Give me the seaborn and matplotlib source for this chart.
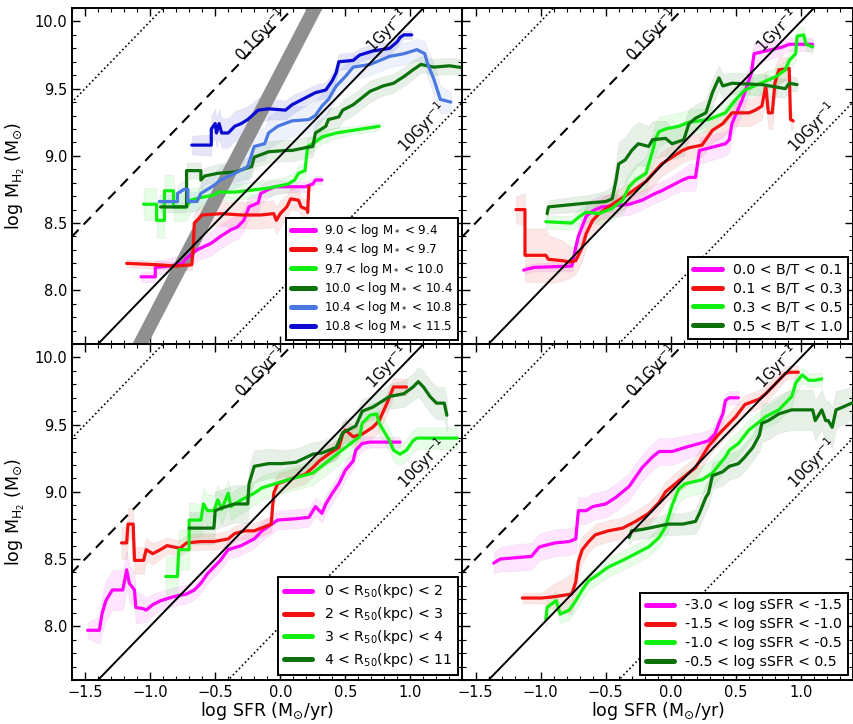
import matplotlib
matplotlib.use("Agg")
import numpy as np
import matplotlib.pyplot as plt
from matplotlib.lines import Line2D
from matplotlib.ticker import MultipleLocator
import seaborn as sns

# ---------------------------------------------------------------- data
# Running medians of log M_H2 versus log SFR (with half-width of the scatter band)

# Panel 1: stellar-mass bins
mstar_a_sfr = [-1.07, -0.96, -0.96, -0.85, -0.75, -0.73, -0.64, -0.53, -0.46, -0.38, -0.33, -0.28, -0.24, -0.17, -0.15, -0.09, -0.04, 0.09, 0.19, 0.25, 0.27, 0.32]
mstar_a_mh2 = [8.10, 8.10, 8.17, 8.18, 8.20, 8.23, 8.30, 8.35, 8.40, 8.45, 8.47, 8.52, 8.62, 8.65, 8.72, 8.75, 8.77, 8.77, 8.77, 8.79, 8.82, 8.82]
mstar_a_err = [0.04, 0.04, 0.05, 0.06, 0.07, 0.08, 0.08, 0.09, 0.09, 0.09, 0.09, 0.08, 0.08, 0.07, 0.07, 0.06, 0.05, 0.04, 0.04, 0.04, 0.03, 0.03]

mstar_b_sfr = [-1.18, -0.95, -0.80, -0.68, -0.67, -0.66, -0.64, -0.60, -0.45, -0.30, -0.15, -0.05, -0.03, 0.00, 0.05, 0.08, 0.14, 0.16, 0.21, 0.21, 0.22]
mstar_b_mh2 = [8.20, 8.19, 8.18, 8.19, 8.30, 8.50, 8.52, 8.56, 8.57, 8.56, 8.56, 8.57, 8.52, 8.57, 8.62, 8.68, 8.67, 8.62, 8.60, 8.58, 8.77]
mstar_b_err = [0.03, 0.03, 0.03, 0.04, 0.06, 0.08, 0.08, 0.08, 0.09, 0.10, 0.10, 0.10, 0.10, 0.10, 0.09, 0.08, 0.08, 0.07, 0.07, 0.05, 0.04]

mstar_c_sfr = [-1.05, -0.95, -0.95, -0.89, -0.89, -0.82, -0.82, -0.72, -0.69, -0.61, -0.50, -0.48, -0.35, -0.09, 0.06, 0.11, 0.14, 0.19, 0.21, 0.25, 0.32, 0.43, 0.56, 0.76]
mstar_c_mh2 = [8.64, 8.64, 8.52, 8.52, 8.74, 8.74, 8.62, 8.62, 8.67, 8.69, 8.71, 8.73, 8.73, 8.76, 8.79, 8.82, 8.87, 8.89, 9.07, 9.09, 9.14, 9.17, 9.19, 9.22]
mstar_c_err = [0.12, 0.12, 0.13, 0.13, 0.12, 0.12, 0.11, 0.10, 0.09, 0.08, 0.07, 0.06, 0.06, 0.06, 0.06, 0.06, 0.06, 0.06, 0.06, 0.05, 0.05, 0.04, 0.03, 0.03]

mstar_d_sfr = [-0.92, -0.72, -0.72, -0.61, -0.61, -0.58, -0.48, -0.35, -0.22, -0.20, -0.09, 0.04, 0.09, 0.19, 0.25, 0.27, 0.35, 0.37, 0.45, 0.48, 0.56, 0.69, 0.79, 0.87, 0.95, 1.02, 1.08, 1.18, 1.30, 1.44]
mstar_d_mh2 = [8.62, 8.62, 8.89, 8.89, 8.82, 8.85, 8.87, 8.88, 8.92, 8.99, 9.03, 9.04, 9.04, 9.06, 9.07, 9.17, 9.22, 9.27, 9.29, 9.34, 9.38, 9.48, 9.52, 9.54, 9.59, 9.64, 9.68, 9.66, 9.67, 9.65]
mstar_d_err = [0.04, 0.04, 0.06, 0.06, 0.06, 0.06, 0.07, 0.08, 0.08, 0.08, 0.08, 0.08, 0.08, 0.08, 0.08, 0.08, 0.08, 0.08, 0.08, 0.08, 0.08, 0.08, 0.07, 0.07, 0.07, 0.07, 0.06, 0.06, 0.06, 0.06]

mstar_e_sfr = [-0.93, -0.79, -0.79, -0.74, -0.71, -0.71, -0.64, -0.61, -0.51, -0.46, -0.35, -0.25, -0.20, -0.12, -0.09, -0.02, 0.09, 0.22, 0.27, 0.32, 0.37, 0.43, 0.50, 0.56, 0.69, 0.84, 0.95, 1.05, 1.11, 1.13, 1.18, 1.23, 1.31]
mstar_e_mh2 = [8.66, 8.66, 8.72, 8.75, 8.75, 8.66, 8.66, 8.72, 8.78, 8.82, 8.87, 8.92, 9.07, 9.09, 9.17, 9.22, 9.26, 9.27, 9.30, 9.37, 9.42, 9.52, 9.59, 9.66, 9.68, 9.74, 9.76, 9.79, 9.76, 9.69, 9.57, 9.42, 9.40]
mstar_e_err = [0.05, 0.05, 0.06, 0.07, 0.07, 0.07, 0.07, 0.08, 0.09, 0.10, 0.11, 0.11, 0.12, 0.12, 0.12, 0.12, 0.11, 0.10, 0.10, 0.10, 0.10, 0.10, 0.09, 0.09, 0.08, 0.08, 0.08, 0.08, 0.09, 0.10, 0.12, 0.10, 0.08]

mstar_f_sfr = [-0.68, -0.53, -0.53, -0.50, -0.49, -0.47, -0.45, -0.40, -0.35, -0.30, -0.25, -0.17, -0.09, 0.04, 0.09, 0.19, 0.27, 0.35, 0.40, 0.43, 0.45, 0.56, 0.61, 0.71, 0.84, 0.90, 0.92, 0.95, 1.01]
mstar_f_mh2 = [9.08, 9.08, 9.20, 9.24, 9.17, 9.24, 9.17, 9.17, 9.22, 9.24, 9.27, 9.34, 9.35, 9.34, 9.38, 9.43, 9.47, 9.49, 9.56, 9.62, 9.70, 9.71, 9.75, 9.78, 9.80, 9.85, 9.88, 9.90, 9.90]
mstar_f_err = [0.07, 0.08, 0.10, 0.11, 0.11, 0.11, 0.11, 0.11, 0.11, 0.11, 0.10, 0.09, 0.08, 0.07, 0.07, 0.06, 0.06, 0.06, 0.06, 0.06, 0.06, 0.06, 0.05, 0.05, 0.05, 0.04, 0.04, 0.03, 0.03]

mstar_labels = [r"9.0 < log M$_*$ < 9.4", r"9.4 < log M$_*$ < 9.7", r"9.7 < log M$_*$ < 10.0",
                r"10.0 < log M$_*$ < 10.4", r"10.4 < log M$_*$ < 10.8", r"10.8 < log M$_*$ < 11.5"]

# grey relation shown in the first panel
relation_sfr = [-1.13, 0.32]
relation_mh2 = [7.50, 10.20]

# Panel 2: bulge-to-total bins
bt_a_sfr = [-1.13, -1.05, -0.76, -0.73, -0.71, -0.65, -0.60, -0.53, -0.42, -0.32, -0.22, -0.12, -0.07, 0.01, 0.09, 0.14, 0.19, 0.22, 0.42, 0.45, 0.47, 0.55, 0.62, 0.64, 0.73, 0.86, 0.91, 1.09]
bt_a_mh2 = [8.15, 8.17, 8.18, 8.32, 8.40, 8.55, 8.59, 8.62, 8.63, 8.64, 8.67, 8.72, 8.74, 8.78, 8.82, 8.84, 8.84, 9.04, 9.09, 9.12, 9.24, 9.42, 9.62, 9.76, 9.78, 9.81, 9.83, 9.83]
bt_a_err = [0.03, 0.03, 0.04, 0.06, 0.08, 0.09, 0.09, 0.09, 0.08, 0.08, 0.07, 0.07, 0.07, 0.07, 0.08, 0.10, 0.10, 0.10, 0.09, 0.09, 0.10, 0.10, 0.10, 0.08, 0.07, 0.06, 0.05, 0.05]

bt_b_sfr = [-1.19, -1.12, -1.12, -0.96, -0.94, -0.83, -0.78, -0.73, -0.68, -0.65, -0.60, -0.55, -0.48, -0.40, -0.32, -0.19, -0.07, 0.01, 0.09, 0.14, 0.24, 0.32, 0.40, 0.47, 0.60, 0.65, 0.70, 0.73, 0.75, 0.78, 0.80, 0.83, 0.91, 0.92, 0.94]
bt_b_mh2 = [8.60, 8.60, 8.26, 8.26, 8.23, 8.22, 8.21, 8.22, 8.32, 8.42, 8.52, 8.57, 8.62, 8.67, 8.72, 8.81, 8.94, 8.99, 9.04, 9.06, 9.08, 9.19, 9.24, 9.32, 9.32, 9.34, 9.37, 9.52, 9.32, 9.32, 9.54, 9.64, 9.65, 9.27, 9.26]
bt_b_err = [0.10, 0.12, 0.20, 0.20, 0.18, 0.15, 0.12, 0.10, 0.10, 0.10, 0.10, 0.10, 0.10, 0.09, 0.09, 0.09, 0.09, 0.09, 0.09, 0.09, 0.09, 0.09, 0.10, 0.10, 0.10, 0.10, 0.10, 0.12, 0.12, 0.12, 0.12, 0.10, 0.08, 0.08, 0.06]

bt_c_sfr = [-0.96, -0.76, -0.70, -0.65, -0.55, -0.45, -0.37, -0.32, -0.27, -0.19, -0.13, -0.12, -0.09, -0.04, 0.06, 0.14, 0.29, 0.42, 0.50, 0.57, 0.81, 0.88, 0.91, 0.96, 0.97, 1.02, 1.04, 1.09]
bt_c_mh2 = [8.51, 8.50, 8.55, 8.58, 8.57, 8.61, 8.67, 8.77, 8.82, 8.87, 9.07, 9.12, 9.18, 9.20, 9.22, 9.25, 9.27, 9.32, 9.42, 9.49, 9.59, 9.64, 9.71, 9.76, 9.89, 9.90, 9.83, 9.81]
bt_c_err = [0.05, 0.05, 0.06, 0.07, 0.08, 0.09, 0.10, 0.10, 0.11, 0.12, 0.12, 0.12, 0.11, 0.10, 0.10, 0.09, 0.09, 0.08, 0.08, 0.07, 0.07, 0.07, 0.07, 0.06, 0.06, 0.06, 0.05, 0.05]

bt_d_sfr = [-0.95, -0.94, -0.63, -0.50, -0.45, -0.42, -0.40, -0.35, -0.30, -0.25, -0.17, -0.14, -0.04, 0.01, 0.10, 0.14, 0.19, 0.27, 0.32, 0.37, 0.40, 0.47, 0.70, 0.88, 0.91, 0.97]
bt_d_mh2 = [8.57, 8.62, 8.65, 8.66, 8.68, 8.82, 8.94, 8.97, 9.04, 9.09, 9.07, 9.12, 9.13, 9.09, 9.12, 9.24, 9.28, 9.32, 9.47, 9.58, 9.52, 9.54, 9.53, 9.50, 9.54, 9.53]
bt_d_err = [0.04, 0.05, 0.06, 0.08, 0.10, 0.14, 0.16, 0.17, 0.17, 0.16, 0.15, 0.14, 0.13, 0.12, 0.12, 0.11, 0.10, 0.10, 0.10, 0.09, 0.09, 0.08, 0.08, 0.07, 0.06, 0.05]

bt_labels = ["0.0 < B/T < 0.1", "0.1 < B/T < 0.3", "0.3 < B/T < 0.5", "0.5 < B/T < 1.0"]

# Panel 3: half-light radius bins
r50_a_sfr = [-1.48, -1.39, -1.37, -1.34, -1.29, -1.21, -1.18, -1.16, -1.12, -1.11, -1.05, -1.03, -0.98, -0.92, -0.82, -0.72, -0.66, -0.61, -0.56, -0.51, -0.46, -0.40, -0.30, -0.20, -0.14, -0.02, 0.12, 0.22, 0.27, 0.32, 0.35, 0.40, 0.45, 0.50, 0.56, 0.58, 0.63, 0.69, 0.92]
r50_a_mh2 = [7.97, 7.97, 8.09, 8.19, 8.27, 8.27, 8.42, 8.32, 8.27, 8.14, 8.13, 8.12, 8.16, 8.19, 8.22, 8.24, 8.27, 8.32, 8.39, 8.44, 8.49, 8.57, 8.60, 8.65, 8.71, 8.79, 8.80, 8.81, 8.89, 8.84, 8.91, 8.99, 9.06, 9.16, 9.23, 9.31, 9.36, 9.37, 9.37]
r50_a_err = [0.06, 0.10, 0.14, 0.15, 0.15, 0.15, 0.14, 0.14, 0.13, 0.12, 0.10, 0.09, 0.08, 0.07, 0.07, 0.07, 0.07, 0.07, 0.07, 0.07, 0.07, 0.07, 0.07, 0.07, 0.07, 0.07, 0.07, 0.07, 0.07, 0.07, 0.07, 0.07, 0.07, 0.07, 0.06, 0.06, 0.05, 0.04, 0.04]

r50_b_sfr = [-1.22, -1.18, -1.17, -1.13, -1.12, -1.05, -1.03, -0.98, -0.92, -0.87, -0.77, -0.72, -0.61, -0.51, -0.40, -0.35, -0.27, -0.20, -0.12, -0.07, -0.05, -0.02, 0.06, 0.19, 0.25, 0.30, 0.37, 0.45, 0.48, 0.50, 0.56, 0.63, 0.71, 0.76, 0.82, 0.87, 0.97]
r50_b_mh2 = [8.62, 8.62, 8.76, 8.76, 8.49, 8.49, 8.57, 8.54, 8.57, 8.60, 8.58, 8.62, 8.63, 8.63, 8.65, 8.69, 8.71, 8.71, 8.74, 8.76, 8.99, 9.06, 9.09, 9.13, 9.18, 9.23, 9.28, 9.33, 9.43, 9.46, 9.41, 9.43, 9.48, 9.53, 9.66, 9.78, 9.78]
r50_b_err = [0.12, 0.12, 0.12, 0.12, 0.10, 0.10, 0.09, 0.08, 0.07, 0.06, 0.06, 0.06, 0.06, 0.06, 0.06, 0.06, 0.06, 0.06, 0.06, 0.06, 0.08, 0.08, 0.07, 0.07, 0.07, 0.07, 0.07, 0.07, 0.08, 0.08, 0.08, 0.08, 0.08, 0.08, 0.08, 0.07, 0.06]

r50_c_sfr = [-0.88, -0.79, -0.78, -0.70, -0.70, -0.61, -0.59, -0.56, -0.51, -0.48, -0.45, -0.40, -0.38, -0.35, -0.30, -0.20, -0.14, -0.04, 0.06, 0.25, 0.37, 0.50, 0.61, 0.63, 0.69, 0.74, 0.76, 0.84, 0.87, 0.92, 0.97, 1.02, 1.05, 1.36]
r50_c_mh2 = [8.37, 8.37, 8.57, 8.57, 8.79, 8.79, 8.91, 8.86, 8.86, 8.94, 8.87, 8.99, 8.89, 8.91, 8.94, 8.99, 9.03, 9.06, 9.09, 9.14, 9.23, 9.33, 9.41, 9.51, 9.57, 9.58, 9.51, 9.38, 9.31, 9.28, 9.31, 9.38, 9.40, 9.40]
r50_c_err = [0.15, 0.15, 0.15, 0.15, 0.13, 0.12, 0.12, 0.12, 0.12, 0.11, 0.11, 0.10, 0.10, 0.10, 0.10, 0.09, 0.09, 0.09, 0.09, 0.09, 0.09, 0.09, 0.09, 0.09, 0.09, 0.09, 0.09, 0.08, 0.08, 0.08, 0.08, 0.08, 0.08, 0.08]

r50_d_sfr = [-0.70, -0.51, -0.50, -0.45, -0.35, -0.25, -0.24, -0.20, -0.09, 0.01, 0.12, 0.25, 0.32, 0.43, 0.48, 0.58, 0.63, 0.71, 0.76, 0.84, 0.95, 1.02, 1.06, 1.10, 1.15, 1.20, 1.26, 1.28]
r50_d_mh2 = [8.73, 8.73, 8.86, 8.88, 8.91, 8.91, 9.06, 9.19, 9.21, 9.21, 9.22, 9.28, 9.29, 9.33, 9.44, 9.49, 9.60, 9.63, 9.66, 9.71, 9.73, 9.78, 9.82, 9.78, 9.71, 9.66, 9.66, 9.57]
r50_d_err = [0.12, 0.12, 0.14, 0.14, 0.14, 0.14, 0.13, 0.12, 0.11, 0.10, 0.10, 0.09, 0.09, 0.09, 0.09, 0.09, 0.09, 0.09, 0.09, 0.09, 0.10, 0.10, 0.11, 0.12, 0.12, 0.12, 0.12, 0.12]

r50_labels = [r"0 < R$_{50}$(kpc) < 2", r"2 < R$_{50}$(kpc) < 3", r"3 < R$_{50}$(kpc) < 4", r"4 < R$_{50}$(kpc) < 11"]

# Panel 4: specific star-formation-rate bins
ssfr_a_sfr = [-1.36, -1.31, -1.19, -1.07, -1.01, -0.89, -0.78, -0.73, -0.71, -0.65, -0.60, -0.50, -0.42, -0.32, -0.27, -0.22, -0.14, -0.09, 0.01, 0.11, 0.22, 0.29, 0.34, 0.37, 0.40, 0.42, 0.45, 0.52]
ssfr_a_mh2 = [8.47, 8.50, 8.51, 8.52, 8.59, 8.62, 8.63, 8.65, 8.86, 8.86, 8.89, 8.91, 8.96, 9.04, 9.11, 9.18, 9.26, 9.30, 9.30, 9.33, 9.36, 9.38, 9.43, 9.51, 9.58, 9.68, 9.70, 9.70]
ssfr_a_err = [0.08, 0.09, 0.10, 0.10, 0.10, 0.10, 0.10, 0.10, 0.10, 0.10, 0.10, 0.10, 0.10, 0.10, 0.10, 0.10, 0.10, 0.10, 0.10, 0.09, 0.08, 0.08, 0.07, 0.07, 0.06, 0.05, 0.05, 0.05]

ssfr_b_sfr = [-1.14, -0.99, -0.89, -0.76, -0.73, -0.71, -0.68, -0.63, -0.58, -0.48, -0.37, -0.27, -0.17, -0.09, -0.04, 0.06, 0.19, 0.24, 0.29, 0.37, 0.42, 0.50, 0.57, 0.68, 0.73, 0.78, 0.83, 0.88, 0.91, 0.98]
ssfr_b_mh2 = [8.21, 8.21, 8.22, 8.24, 8.33, 8.48, 8.57, 8.63, 8.68, 8.71, 8.73, 8.78, 8.84, 8.92, 9.00, 9.08, 9.18, 9.26, 9.34, 9.43, 9.48, 9.56, 9.65, 9.69, 9.73, 9.78, 9.83, 9.88, 9.89, 9.89]
ssfr_b_err = [0.04, 0.04, 0.10, 0.15, 0.14, 0.12, 0.10, 0.08, 0.08, 0.08, 0.08, 0.08, 0.08, 0.08, 0.08, 0.08, 0.08, 0.08, 0.08, 0.08, 0.08, 0.08, 0.07, 0.07, 0.07, 0.06, 0.06, 0.05, 0.05, 0.05]

ssfr_c_sfr = [-0.96, -0.95, -0.91, -0.88, -0.85, -0.78, -0.73, -0.68, -0.63, -0.58, -0.48, -0.37, -0.27, -0.17, -0.09, -0.04, 0.01, 0.06, 0.11, 0.24, 0.32, 0.37, 0.42, 0.45, 0.52, 0.60, 0.68, 0.73, 0.83, 0.88, 0.93, 0.96, 1.01, 1.06, 1.11, 1.16]
ssfr_c_mh2 = [8.05, 8.14, 8.17, 8.19, 8.09, 8.12, 8.19, 8.27, 8.34, 8.37, 8.44, 8.49, 8.54, 8.59, 8.66, 8.74, 8.90, 9.02, 9.06, 9.09, 9.14, 9.20, 9.26, 9.31, 9.36, 9.46, 9.52, 9.56, 9.61, 9.66, 9.71, 9.81, 9.87, 9.83, 9.83, 9.84]
ssfr_c_err = [0.06, 0.07, 0.07, 0.07, 0.07, 0.07, 0.07, 0.07, 0.07, 0.07, 0.07, 0.07, 0.07, 0.07, 0.07, 0.08, 0.09, 0.10, 0.10, 0.10, 0.10, 0.10, 0.09, 0.09, 0.09, 0.08, 0.08, 0.08, 0.08, 0.08, 0.07, 0.07, 0.06, 0.05, 0.05, 0.05]

ssfr_d_sfr = [-0.32, -0.30, -0.22, -0.12, -0.02, 0.09, 0.19, 0.22, 0.27, 0.29, 0.32, 0.40, 0.45, 0.52, 0.57, 0.63, 0.68, 0.70, 0.75, 0.83, 0.93, 1.09, 1.11, 1.16, 1.19, 1.21, 1.24, 1.27, 1.32, 1.39]
ssfr_d_mh2 = [8.66, 8.71, 8.72, 8.74, 8.76, 8.76, 8.78, 8.84, 8.96, 8.99, 9.12, 9.15, 9.19, 9.21, 9.26, 9.33, 9.42, 9.51, 9.53, 9.58, 9.61, 9.61, 9.53, 9.61, 9.53, 9.53, 9.48, 9.61, 9.63, 9.66]
ssfr_d_err = [0.06, 0.07, 0.07, 0.07, 0.08, 0.08, 0.09, 0.10, 0.10, 0.10, 0.10, 0.10, 0.10, 0.10, 0.10, 0.10, 0.12, 0.14, 0.14, 0.14, 0.15, 0.15, 0.15, 0.15, 0.15, 0.15, 0.15, 0.14, 0.13, 0.12]

ssfr_labels = ["-3.0 < log sSFR < -1.5", "-1.5 < log sSFR < -1.0", "-1.0 < log sSFR < -0.5", "-0.5 < log sSFR < 0.5"]

# constant depletion-time lines (log M_H2 = log SFR + offset)
depletion_offsets = [11.0, 10.0, 9.0, 8.0]

# ---------------------------------------------------------------- style
sns.set_style("ticks")
plt.rcParams.update({
    "font.family": ["DejaVu Sans"],
    "mathtext.fontset": "dejavusans",
    "text.color": "black",
    "axes.labelcolor": "black",
    "axes.linewidth": 1.4,
    "axes.edgecolor": "black",
    "xtick.direction": "in",
    "ytick.direction": "in",
    "xtick.top": True,
    "ytick.right": True,
    "xtick.major.size": 6,
    "ytick.major.size": 6,
    "xtick.minor.size": 3,
    "ytick.minor.size": 3,
    "xtick.major.width": 1.0,
    "ytick.major.width": 1.0,
    "xtick.minor.width": 0.8,
    "ytick.minor.width": 0.8,
    "xtick.labelsize": 10.5,
    "ytick.labelsize": 10.5,
    "xtick.color": "black",
    "ytick.color": "black",
})

MAGENTA = "#ff00ff"
RED = "#f21010"
LIME = "#10f010"
DKGREEN = "#0b720b"
LTBLUE = "#4a78e0"
BLUE = "#0a0ad2"

fig, axes = plt.subplots(2, 2, figsize=(8.54, 7.24), dpi=100, sharex=True, sharey=True)
fig.subplots_adjust(left=72 / 854, right=853 / 854, top=1 - 8 / 724, bottom=1 - 680 / 724,
                    wspace=0, hspace=0)

panels = [
    (axes[0, 0], [
        (mstar_a_sfr, mstar_a_mh2, mstar_a_err, MAGENTA),
        (mstar_b_sfr, mstar_b_mh2, mstar_b_err, RED),
        (mstar_c_sfr, mstar_c_mh2, mstar_c_err, LIME),
        (mstar_d_sfr, mstar_d_mh2, mstar_d_err, DKGREEN),
        (mstar_e_sfr, mstar_e_mh2, mstar_e_err, LTBLUE),
        (mstar_f_sfr, mstar_f_mh2, mstar_f_err, BLUE),
    ], mstar_labels, 8.6, 0.18),
    (axes[0, 1], [
        (bt_a_sfr, bt_a_mh2, bt_a_err, MAGENTA),
        (bt_b_sfr, bt_b_mh2, bt_b_err, RED),
        (bt_c_sfr, bt_c_mh2, bt_c_err, LIME),
        (bt_d_sfr, bt_d_mh2, bt_d_err, DKGREEN),
    ], bt_labels, 10.2, 0.35),
    (axes[1, 0], [
        (r50_a_sfr, r50_a_mh2, r50_a_err, MAGENTA),
        (r50_b_sfr, r50_b_mh2, r50_b_err, RED),
        (r50_c_sfr, r50_c_mh2, r50_c_err, LIME),
        (r50_d_sfr, r50_d_mh2, r50_d_err, DKGREEN),
    ], r50_labels, 10.2, 0.35),
    (axes[1, 1], [
        (ssfr_a_sfr, ssfr_a_mh2, ssfr_a_err, MAGENTA),
        (ssfr_b_sfr, ssfr_b_mh2, ssfr_b_err, RED),
        (ssfr_c_sfr, ssfr_c_mh2, ssfr_c_err, LIME),
        (ssfr_d_sfr, ssfr_d_mh2, ssfr_d_err, DKGREEN),
    ], ssfr_labels, 10.2, 0.35),
]

xline = np.array([-1.7, 1.5])

for ax, curves, labels, lfs, lsp in panels:
    ax.set_xlim(-1.6, 1.4)
    ax.set_ylim(7.6, 10.1)

    # depletion-time guide lines
    ax.plot(xline, xline + depletion_offsets[0], color="black", ls=(0, (1, 1.6)), lw=1.2, zorder=2)
    ax.plot(xline, xline + depletion_offsets[1], color="black", ls=(0, (5, 3.5)), lw=1.5, zorder=2)
    ax.plot(xline, xline + depletion_offsets[2], color="black", ls="-", lw=1.4, zorder=4)
    ax.plot(xline, xline + depletion_offsets[3], color="black", ls=(0, (1, 1.6)), lw=1.2, zorder=2)
    tkw = dict(rotation=45, rotation_mode="anchor", transform_rotates_text=True,
               ha="center", va="center", fontsize=10.5, color="black", zorder=5)
    ax.text(-0.145, 9.90, r"0.1Gyr$^{-1}$", **tkw)
    ax.text(0.82, 9.93, r"1Gyr$^{-1}$", **tkw)
    ax.text(1.09, 9.21, r"10Gyr$^{-1}$", **tkw)

    # scatter bands
    for xs, ys, es, col in curves:
        xs_a = np.asarray(xs)
        ys_a = np.asarray(ys)
        es_a = np.asarray(es)
        ax.fill_between(xs_a, ys_a - es_a, ys_a + es_a, color=col, alpha=0.10, lw=0.6,
                        edgecolor=(0.5, 0.5, 0.5, 0.15), zorder=1)
    # running medians
    for xs, ys, es, col in curves:
        sns.lineplot(x=xs, y=ys, sort=False, estimator=None, color=col, lw=2.3, ax=ax, zorder=3)

    handles = [Line2D([], [], color=c[3], lw=3.6) for c in curves]
    leg = ax.legend(handles, labels, loc="lower right", fontsize=lfs, frameon=True, fancybox=False,
                    framealpha=1, edgecolor="black", handlelength=2.0, handletextpad=0.8,
                    borderaxespad=0.35, labelspacing=lsp, borderpad=0.4)
    leg.get_frame().set_linewidth(1.4)
    leg.set_zorder(10)

    ax.xaxis.set_major_locator(MultipleLocator(0.5))
    ax.xaxis.set_minor_locator(MultipleLocator(0.1))
    ax.yaxis.set_major_locator(MultipleLocator(0.5))
    ax.yaxis.set_minor_locator(MultipleLocator(0.1))
    ax.set_xlabel("")
    ax.set_ylabel("")

# grey relation in the stellar-mass panel
axes[0, 0].plot(relation_sfr, relation_mh2, color="#8f8f8f", lw=10, solid_capstyle="butt", zorder=1.5)

for ax in axes[:, 0]:
    ax.set_ylabel(r"log M$_{\mathrm{H_2}}$ (M$_{\odot}$)", fontsize=12.5, labelpad=5)
for ax in axes[1, :]:
    ax.set_xlabel(r"log SFR (M$_{\odot}$/yr)", fontsize=12.5, labelpad=0)
for ax in axes.flat:
    ax.label_outer()

fig.savefig("out.png", dpi=100)
